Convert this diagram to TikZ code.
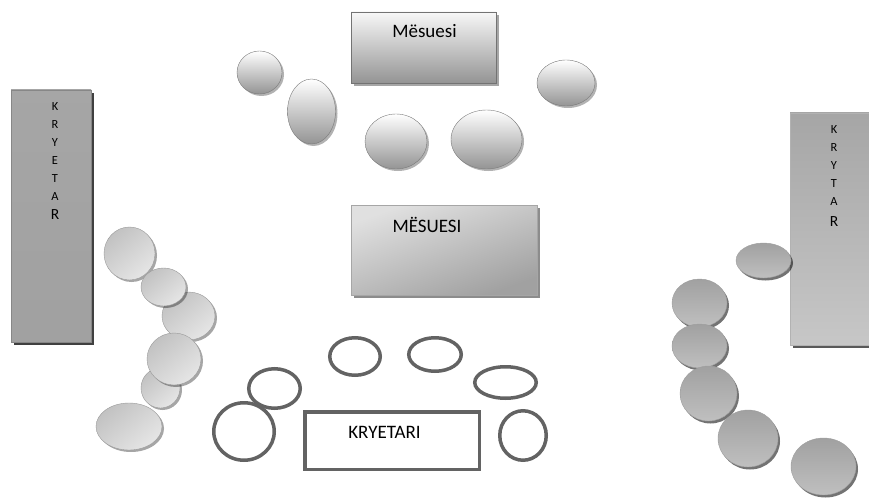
\documentclass[tikz,border=0pt]{standalone}
\usepackage{fontspec}
\setmainfont{Carlito}
\usetikzlibrary{shapes.geometric,shadows,positioning}

\definecolor{rim}{HTML}{636363}
\definecolor{topedge}{HTML}{7A7A7A}
\definecolor{sideedge}{HTML}{9A9A9A}

\begin{document}
\begin{tikzpicture}[x=1pt,y=-1pt,
seat/.style 2 args={ellipse,inner sep=0pt,minimum width=#1pt,minimum height=#2pt},
topseat/.style={draw=topedge,top color=white,bottom color=black!42,
  drop shadow={shadow xshift=2pt,shadow yshift=-2pt,fill=black,opacity=.3}},
leftseat/.style={draw=sideedge,top color=black!24,bottom color=black!10,shading angle=40,
  drop shadow={shadow xshift=2pt,shadow yshift=-2pt,fill=black,opacity=.35}},
rightseat/.style={draw=black!38,top color=black!37,bottom color=black!25,
  drop shadow={shadow xshift=2pt,shadow yshift=-2.5pt,fill=black,opacity=.55}},
openseat/.style={draw=rim,line width=3.5pt},
desk/.style 2 args={rectangle,inner sep=0pt,minimum width=#1pt,minimum height=#2pt},
word/.style={font=\fontsize{19}{23}\selectfont,inner sep=0pt,anchor=base},
letters/.style={font=\fontsize{12.4}{18}\selectfont,inner sep=0pt,align=center,anchor=north}]
\clip (0,0) rectangle (869,500);

% side tables
\node[desk={80}{252},draw=black!47,top color=black!35,middle color=black!54,bottom color=black!37,
  drop shadow={shadow xshift=3pt,shadow yshift=-3pt,fill=black!75,opacity=1}] (KL) at (51,216) {};
\node[letters] (KLt) at (55,102) {K\\R\\Y\\E\\T\\A\\[1pt]{\fontsize{15.5}{18}\selectfont R}};
\node[desk={88}{232},draw=black!30,top color=black!35,bottom color=black!22,
  drop shadow={shadow xshift=3pt,shadow yshift=-3pt,fill=black!65,opacity=1}] (KR) at (834,229) {};
\node[letters] (KRt) at (834,125) {K\\R\\Y\\T\\A\\[3pt]{\fontsize{15.5}{18}\selectfont R}};

% teacher desks
\node[desk={145}{71},draw=black!55,top color=black!3,bottom color=black!42,
  drop shadow={shadow xshift=3pt,shadow yshift=-3pt,fill=black!35,opacity=1}] (M1) at (423.5,47.5) {};
\node[word] (M1t) at (424.5,38) {Mësuesi};
\node[desk={186}{90},draw=black!35,top color=black!37,bottom color=black!12,shading angle=200,
  drop shadow={shadow xshift=3pt,shadow yshift=-3pt,fill=black!45,opacity=1}] (M2) at (444,250) {};
\node[word] (M2t) at (427,232) {MËSUESI};

% top seats
\node[seat={45}{43},topseat] (T1) at (259.5,72.5) {};
\node[seat={48}{65},topseat] (T2) at (311.5,111.5) {};
\node[seat={62}{55},topseat] (T3) at (396,141.5) {};
\node[seat={71}{59},topseat] (T4) at (486.5,139.5) {};
\node[seat={58}{46},topseat] (T5) at (566,83) {};

% left seats
\node[seat={51}{53},leftseat] (L1) at (129.5,253.5) {};
\node[seat={53}{48},leftseat] (L3) at (188.5,316) {};
\node[seat={45}{38},leftseat] (L2) at (163.5,287) {};
\node[seat={39}{40},leftseat] (L5) at (160.5,388) {};
\node[seat={54}{52},leftseat] (L4) at (174,359) {};
\node[seat={66}{47},leftseat] (L6) at (129,426.5) {};

% right seats
\node[seat={55}{35},rightseat] (R1) at (763.5,260.5) {};
\node[seat={55}{48},rightseat] (R2) at (699.5,303) {};
\node[seat={55}{44},rightseat] (R3) at (699.5,346) {};
\node[seat={57}{55},rightseat] (R4) at (708.5,393.5) {};
\node[seat={60}{57},rightseat] (R5) at (748,438.5) {};
\node[seat={65}{57},rightseat] (R6) at (823.5,466.5) {};

% bottom seats and table
\node[seat={50.5}{37.5},openseat] (B1) at (355,356.5) {};
\node[seat={52.5}{33.5},openseat] (B2) at (435,354.5) {};
\node[seat={61.5}{31.5},openseat] (B3) at (505.5,382.5) {};
\node[seat={51.5}{39.5},openseat] (B4) at (274.5,388.5) {};
\node[seat={60.5}{57.5},openseat] (B5) at (244,431.5) {};
\node[seat={46.5}{49.5},openseat] (B6) at (523,435.5) {};
\node[desk={174.5}{57.5},openseat] (K) at (392,440.5) {};
\node[word] (Kt) at (384.5,438) {KRYETARI};
\end{tikzpicture}
\end{document}
